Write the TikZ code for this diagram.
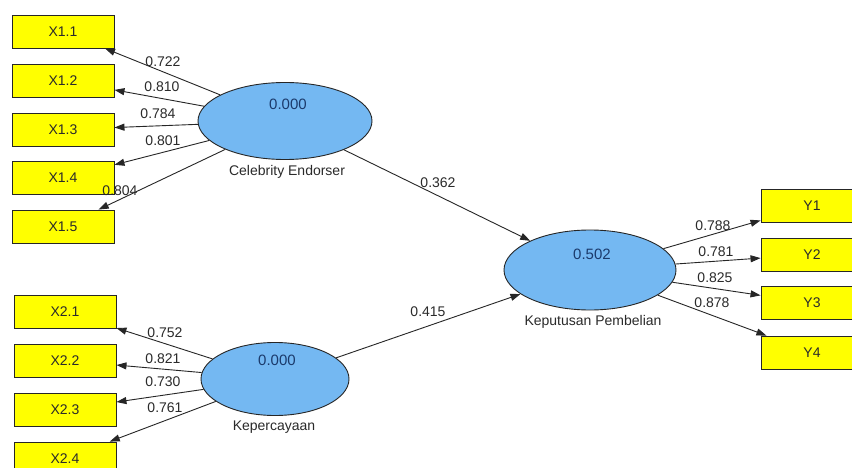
\documentclass[tikz,border=0pt]{standalone}
\usepackage{fontspec}
\setmainfont{Liberation Sans}
\usetikzlibrary{arrows.meta,shapes.geometric}
\definecolor{boxy}{HTML}{FFFF00}
\definecolor{ellb}{HTML}{74B8F2}
\definecolor{navy}{HTML}{1B3A6B}
\definecolor{txt}{HTML}{2A2A2A}
\begin{document}
\begin{tikzpicture}[x=1pt,y=-1pt,
  ind/.style={draw=black!85,line width=0.9pt,fill=boxy,minimum width=102pt,minimum height=33pt,inner sep=0pt,font=\fontsize{14}{14}\selectfont,text=txt},
  lat/.style={ellipse,draw=black!85,line width=0.9pt,fill=ellb,inner sep=0pt},
  val/.style={font=\fontsize{15}{15}\selectfont,text=navy},
  nm/.style={font=\fontsize{14}{14}\selectfont,text=txt},
  lbl/.style={font=\fontsize{14}{14}\selectfont,text=txt,inner sep=0pt},
  arr/.style={draw=black!85,line width=0.9pt,-{Triangle[length=10pt,width=7pt]}}]
\clip (0,0) rectangle (852,468);
\fill[white] (0,0) rectangle (852,468);
% indicators
\node[ind] (x11) at (63,31.5) {X1.1};
\node[ind] (x12) at (63,80.5) {X1.2};
\node[ind] (x13) at (63,129.5) {X1.3};
\node[ind] (x14) at (63,178) {X1.4};
\node[ind] (x15) at (63,226.5) {X1.5};
\node[ind] (x21) at (65,311.5) {X2.1};
\node[ind] (x22) at (65,360.5) {X2.2};
\node[ind] (x23) at (65,409.5) {X2.3};
\node[ind] (x24) at (65,458.5) {X2.4};
\node[ind] (y1) at (812,205.5) {Y1};
\node[ind] (y2) at (812,254.5) {Y2};
\node[ind] (y3) at (812,303) {Y3};
\node[ind] (y4) at (812,352.5) {Y4};
% latent variables
\node[lat,minimum width=174pt,minimum height=77pt] (ce) at (285,121) {};
\node[lat,minimum width=148pt,minimum height=73pt] (kp) at (275,379) {};
\node[lat,minimum width=172pt,minimum height=80pt] (kb) at (590,270) {};
\node[val] (vce) at (288,104) {0.000};
\node[val] (vkp) at (277,360) {0.000};
\node[val] (vkb) at (592,254) {0.502};
\node[nm] (nce) at (287,172) {Celebrity Endorser};
\node[nm] (nkp) at (274,427) {Kepercayaan};
\node[nm] (nkb) at (593,322) {Keputusan Pembelian};
% connectors
\draw[arr] (ce) -- (x11);
\draw[arr] (ce) -- (x12);
\draw[arr] (ce) -- (x13);
\draw[arr] (ce) -- (x14);
\draw[arr] (ce) -- (x15);
\draw[arr] (kp) -- (x21);
\draw[arr] (kp) -- (x22);
\draw[arr] (kp) -- (x23);
\draw[arr] (kp) -- (x24);
\draw[arr] (kb) -- (y1);
\draw[arr] (kb) -- (y2);
\draw[arr] (kb) -- (y3);
\draw[arr] (kb) -- (y4);
\draw[arr] (ce) -- (kb);
\draw[arr] (kp) -- (kb);
% loadings
\node[lbl] (l11) at (163,62) {0.722};
\node[lbl] (l12) at (162,87) {0.810};
\node[lbl] (l13) at (158,114) {0.784};
\node[lbl] (l14) at (163,141) {0.801};
\node[lbl] (l15) at (120,191) {0.804};
\node[lbl] (l21) at (165,333) {0.752};
\node[lbl] (l22) at (163,359) {0.821};
\node[lbl] (l23) at (163,382) {0.730};
\node[lbl] (l24) at (165,408) {0.761};
\node[lbl] (ly1) at (713,226) {0.788};
\node[lbl] (ly2) at (716,252) {0.781};
\node[lbl] (ly3) at (715,278) {0.825};
\node[lbl] (ly4) at (712,303) {0.878};
\node[lbl] (p1) at (438,183) {0.362};
\node[lbl] (p2) at (428,312) {0.415};
\end{tikzpicture}
\end{document}
